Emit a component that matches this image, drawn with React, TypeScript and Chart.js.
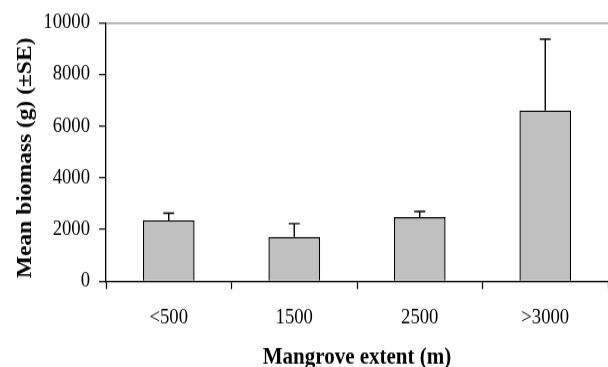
import React, { useEffect, useRef } from "react";
import { Chart, registerables } from "chart.js";

Chart.register(...registerables);

const categories = ["<500", "1500", "2500", ">3000"];
const meanBiomass = [2355, 1713, 2482, 6608];
const standardError = [281, 515, 218, 2750];
const yTicks = [0, 2000, 4000, 6000, 8000, 10000];

const xTitle = "Mangrove extent (m)";
const yTitle = "Mean biomass (g) (\u00B1SE)";

const FONT = "'Liberation Serif', 'Times New Roman', Times, serif";

const errorBarPlugin = {
  id: "errorBars",
  afterDatasetsDraw(chart: any) {
    const ctx = chart.ctx;
    const meta = chart.getDatasetMeta(0);
    const yScale = chart.scales.y;
    ctx.save();
    ctx.strokeStyle = "#000";
    ctx.lineWidth = 1.4;
    meta.data.forEach((bar: any, i: number) => {
      const top = yScale.getPixelForValue(meanBiomass[i]);
      const upper = yScale.getPixelForValue(meanBiomass[i] + standardError[i]);
      ctx.beginPath();
      ctx.moveTo(bar.x, top);
      ctx.lineTo(bar.x, upper);
      ctx.moveTo(bar.x - 5.5, upper);
      ctx.lineTo(bar.x + 5.5, upper);
      ctx.stroke();
    });
    ctx.restore();
  },
};

export default function App() {
  const ref = useRef<HTMLCanvasElement | null>(null);

  useEffect(() => {
    document.body.style.margin = "0";
    const canvas = ref.current;
    if (!canvas) return;
    const chart = new Chart(canvas, {
      type: "bar",
      data: {
        labels: categories,
        datasets: [
          {
            data: meanBiomass,
            backgroundColor: "#c0c0c0",
            borderColor: "#000",
            borderWidth: 1.4,
            borderSkipped: "start",
            barPercentage: 0.412,
            categoryPercentage: 1,
          },
        ],
      },
      options: {
        animation: false,
        responsive: false,
        devicePixelRatio: 1,
        layout: { padding: { top: 18.8, left: 0, right: -3, bottom: 0 } },
        plugins: {
          legend: { display: false },
          tooltip: { enabled: false },
        },
        scales: {
          x: {
            grid: {
              offset: true,
              drawOnChartArea: false,
              drawTicks: true,
              tickLength: 7,
              tickColor: "#000",
              tickWidth: 1.2,
            },
            border: { color: "#000", width: 1.3 },
            ticks: {
              color: "#000",
              font: { family: FONT, size: 18.7 },
              padding: 14,
            },
            title: {
              display: true,
              text: xTitle,
              color: "#000",
              font: { family: FONT, size: 21, weight: "bold", lineHeight: 0.8 },
              padding: 0,
            },
            afterFit(scale: any) {
              scale.height = 76.6;
            },
          },
          y: {
            min: 0,
            max: 10000,
            afterBuildTicks(scale: any) {
              scale.ticks = yTicks.map((v) => ({ value: v }));
            },
            grid: {
              color: (c: any) => (c.tick && c.tick.value === 10000 ? "#a0a0a0" : "rgba(0,0,0,0)"),
              lineWidth: 1.4,
              tickColor: "#000",
              tickLength: 7,
              tickWidth: 1.2,
              drawTicks: true,
            },
            border: { color: "#000", width: 1.3 },
            ticks: {
              color: "#000",
              font: { family: FONT, size: 18.7 },
              padding: 9,
              callback: (v: any) => String(v),
            },
            title: {
              display: true,
              text: yTitle + "  ",
              color: "#000",
              font: { family: FONT, size: 21, weight: "bold", lineHeight: 0.8 },
              padding: { top: 17.6, bottom: 0 },
            },
            afterFit(scale: any) {
              scale.width = 106;
            },
          },
        },
      },
      plugins: [errorBarPlugin],
    });
    return () => chart.destroy();
  }, []);

  return (
    <canvas
      ref={ref}
      width={608}
      height={328}
      style={{
        position: "fixed",
        left: 0,
        top: 0,
        width: "608px",
        height: "367px",
        display: "block",
      }}
    />
  );
}
